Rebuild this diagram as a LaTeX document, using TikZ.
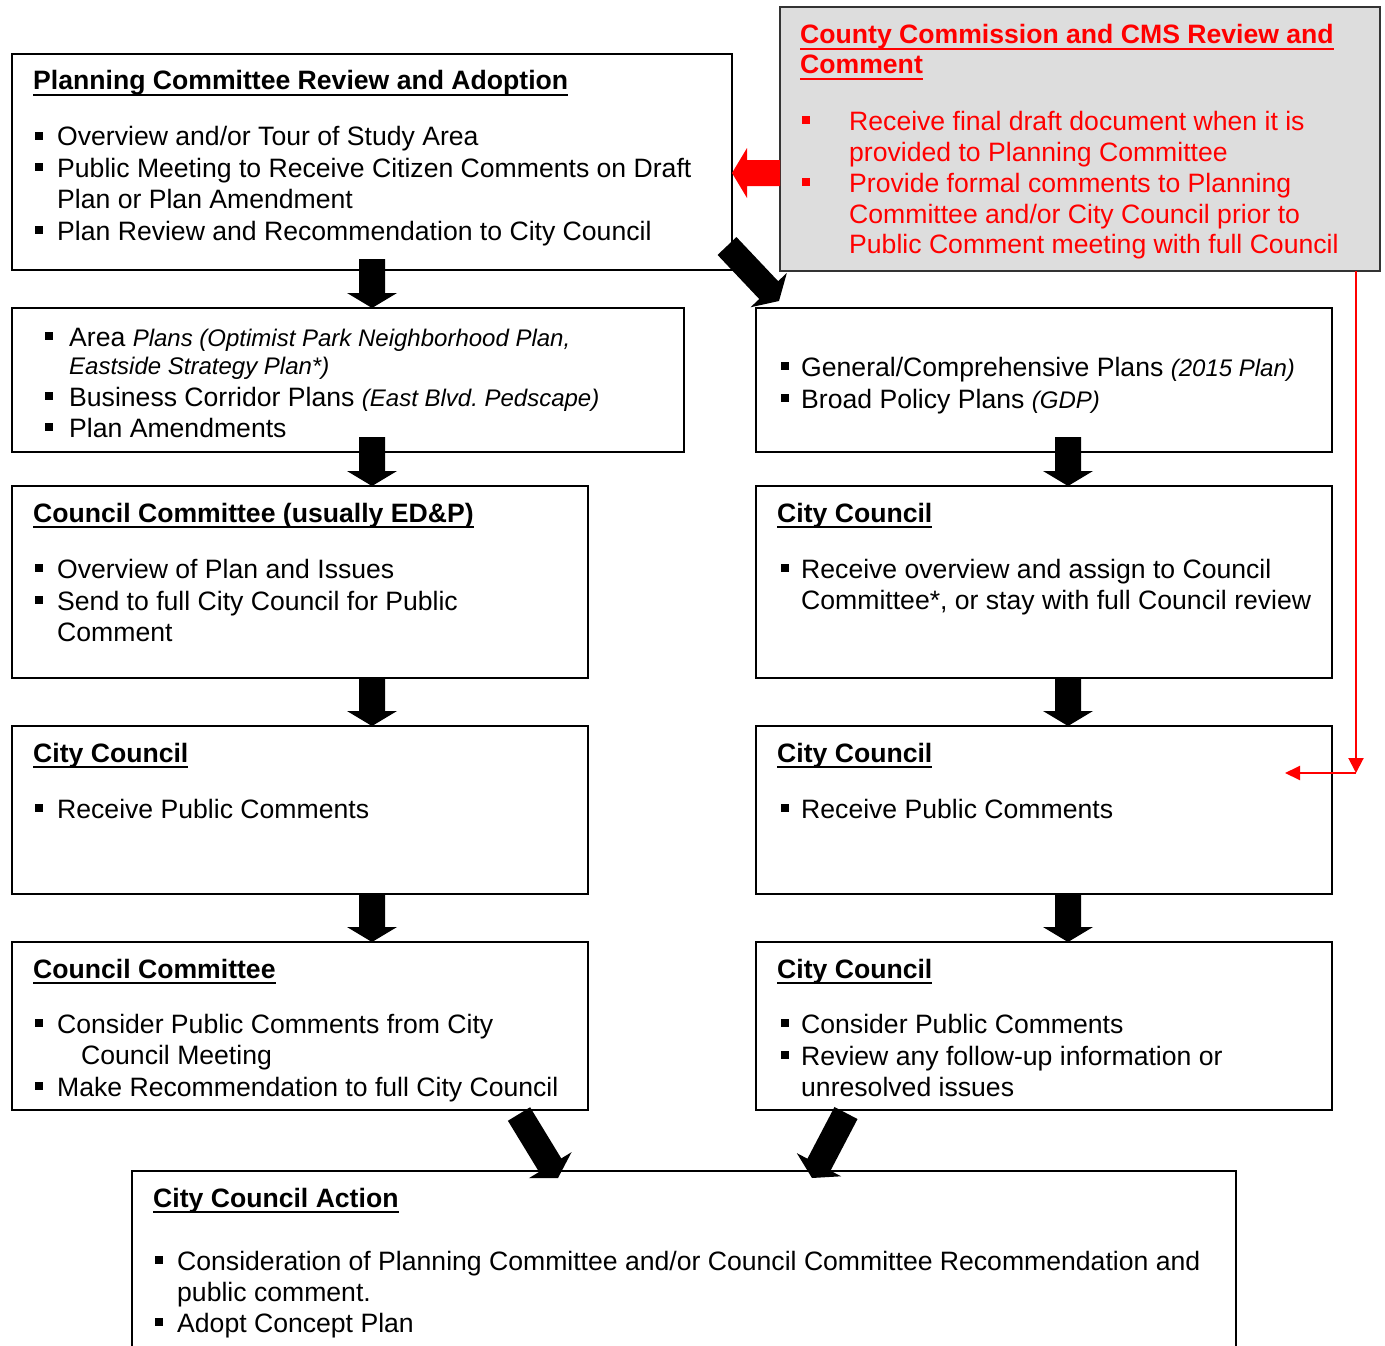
\documentclass[tikz,border=0pt]{standalone}
\usepackage{fontspec}
\setmainfont{Liberation Sans}
\usetikzlibrary{calc,arrows.meta}
\definecolor{boxgray}{RGB}{221,221,221}
\frenchspacing
\newcommand\fsz{\fontsize{26.6}{31}\selectfont\frenchspacing}
\newcommand\sit[1]{{\fontsize{24}{29}\selectfont\itshape #1}}
\newcommand\ttl[1]{\setbox0\hbox{\bfseries #1}\rlap{\rule[-6pt]{\wd0}{2pt}}\box0}
\newcounter{tn}
\newcommand\tl[3]{\stepcounter{tn}\node[txt] (t\thetn) at (#1,#2) {#3};}
\newcommand\bl[2]{\fill (#1-4,#2-14) rectangle (#1+4,#2-6);}
% block arrow: color, start, end
\newcommand\barrow[3]{%
  \coordinate (bs) at (#2);
  \coordinate (be) at (#3);
  \coordinate (bh) at ($(be)!15pt!(bs)$);
  \fill[#1] ($(bs)!13pt!90:(be)$) -- ($(bh)!13pt!90:(be)$) -- ($(bh)!25pt!90:(be)$)
     -- (be) -- ($(bh)!25pt!-90:(be)$) -- ($(bh)!13pt!-90:(be)$) -- ($(bs)!13pt!-90:(be)$) -- cycle;
}
\begin{document}
\begin{tikzpicture}[x=1pt,y=-1pt,
  box/.style={draw, line width=1.8pt, inner sep=0pt, outer sep=0pt, anchor=north west},
  txt/.style={anchor=base west, inner sep=0pt, font=\fsz},
  redline/.style={red, line width=2pt}]
\useasboundingbox (0,0) rectangle (1385,1346);

% boxes
\node[box, minimum width=720pt, minimum height=216pt] (p1) at (12,54) {};
\node[box, fill=boxgray, draw=black!80, minimum width=600pt, minimum height=264pt] (cc) at (780,7) {};
\node[box, minimum width=672pt, minimum height=144pt] (p2) at (12,308) {};
\node[box, minimum width=576pt, minimum height=144pt] (r2) at (756,308) {};
\node[box, minimum width=576pt, minimum height=192pt] (l3) at (12,486) {};
\node[box, minimum width=576pt, minimum height=192pt] (r3) at (756,486) {};
\node[box, minimum width=576pt, minimum height=168pt] (l4) at (12,726) {};
\node[box, minimum width=576pt, minimum height=168pt] (r4) at (756,726) {};
\node[box, minimum width=576pt, minimum height=168pt] (l5) at (12,942) {};
\node[box, minimum width=576pt, minimum height=168pt] (r5) at (756,942) {};
\node[box, minimum width=1104pt, minimum height=200pt] (fa) at (132,1171) {};

% p1
\tl{33}{90}{\ttl{Planning Committee Review and Adoption}}
\bl{39}{146}\tl{57}{146}{Overview and/or Tour of Study Area}
\bl{39}{177}\tl{57}{177}{Public Meeting to Receive Citizen Comments on Draft}
\tl{57}{208}{Plan or Plan Amendment}
\bl{39}{240}\tl{57}{240}{Plan Review and Recommendation to City Council}

% county
\begin{scope}[red]
\tl{800}{44}{\color{red}\ttl{County Commission and CMS Review and}}
\tl{800}{74}{\color{red}\ttl{Comment}}
\bl{806}{130}\tl{849}{130}{\color{red}Receive final draft document when it is}
\tl{849}{161}{\color{red}provided to Planning Committee}
\bl{806}{192}\tl{849}{192}{\color{red}Provide formal comments to Planning}
\tl{849}{223}{\color{red}Committee and/or City Council prior to}
\tl{849}{253}{\color{red}Public Comment meeting with full Council}
\end{scope}

% p2
\bl{49}{346}\tl{69}{346}{Area \sit{Plans (Optimist Park Neighborhood Plan,}}
\tl{69}{374}{\sit{Eastside Strategy Plan*)}}
\bl{49}{406}\tl{69}{406}{Business Corridor Plans \sit{(East Blvd. Pedscape)}}
\bl{49}{437}\tl{69}{437}{Plan Amendments}

% r2
\bl{785}{376}\tl{801}{376}{General/Comprehensive Plans \sit{(2015 Plan)}}
\bl{785}{408}\tl{801}{408}{Broad Policy Plans \sit{(GDP)}}

% l3
\tl{33}{522}{\ttl{Council Committee (usually ED\&P)}}
\bl{39}{578}\tl{57}{578}{Overview of Plan and Issues}
\bl{39}{610}\tl{57}{610}{Send to full City Council for Public}
\tl{57}{641}{Comment}

% r3
\tl{777}{522}{\ttl{City Council}}
\bl{785}{578}\tl{801}{578}{Receive overview and assign to Council}
\tl{801}{609}{Committee*, or stay with full Council review}

% l4, r4
\tl{33}{762}{\ttl{City Council}}
\bl{39}{818}\tl{57}{818}{Receive Public Comments}
\tl{777}{762}{\ttl{City Council}}
\bl{785}{818}\tl{801}{818}{Receive Public Comments}

% l5
\tl{33}{978}{\ttl{Council Committee}}
\bl{39}{1033}\tl{57}{1033}{Consider Public Comments from City}
\tl{81}{1064}{Council Meeting}
\bl{39}{1096}\tl{57}{1096}{Make Recommendation to full City Council}

% r5
\tl{777}{978}{\ttl{City Council}}
\bl{785}{1033}\tl{801}{1033}{Consider Public Comments}
\bl{785}{1065}\tl{801}{1065}{Review any follow-up information or}
\tl{801}{1096}{unresolved issues}

% final
\tl{153}{1207}{\ttl{City Council Action}}
\bl{159}{1270}\tl{177}{1270}{Consideration of Planning Committee and/or Council Committee Recommendation and}
\tl{177}{1301}{public comment.}
\bl{159}{1332}\tl{177}{1332}{Adopt Concept Plan}

% block arrows left column
\barrow{black}{[xshift=360pt,yshift=11pt]p1.south west}{[xshift=360pt]p2.north west}
\barrow{black}{[xshift=360pt,yshift=15pt]p2.south west}{[xshift=360pt]l3.north west}
\barrow{black}{[xshift=360pt]l3.south west}{[xshift=360pt]l4.north west}
\barrow{black}{[xshift=360pt]l4.south west}{[xshift=360pt]l5.north west}
% right column
\barrow{black}{[xshift=312pt,yshift=15pt]r2.south west}{[xshift=312pt]r3.north west}
\barrow{black}{[xshift=312pt]r3.south west}{[xshift=312pt]r4.north west}
\barrow{black}{[xshift=312pt]r4.south west}{[xshift=312pt]r5.north west}
% diagonal
\barrow{black}{[xshift=-5pt,yshift=24pt]p1.south east}{[xshift=23pt,yshift=7pt]r2.north west}
\barrow{black}{[xshift=507pt,yshift=-4pt]l5.south west}{[xshift=426pt,yshift=-7pt]fa.north west}
\barrow{black}{[xshift=90pt,yshift=-3pt]r5.south west}{[xshift=680pt,yshift=-7pt]fa.north west}
% red block arrow
\barrow{red}{[yshift=-34pt]cc.west}{[yshift=-11pt]p1.east}

% red line
\coordinate (rc) at (1356,773);
\coordinate (rt) at (1285,773);
\draw[redline, -{Triangle[length=15pt,width=15pt]}] ([xshift=-24pt]cc.south east) -- (rc);
\draw[redline, -{Triangle[length=15pt,width=14pt]}] (rc) -- (rt);
\end{tikzpicture}
\end{document}
